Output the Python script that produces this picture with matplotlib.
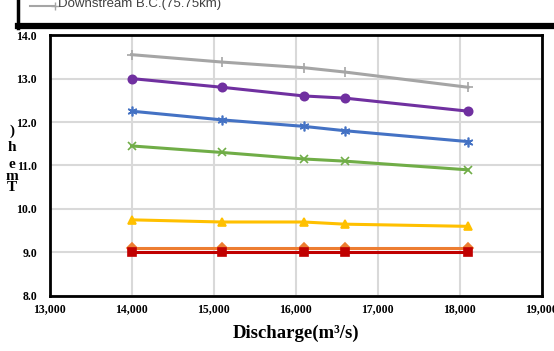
import matplotlib.pyplot as plt
import numpy as np

# discharge (m3/s) and temperature per boundary/station
discharge = [14000, 15100, 16100, 16600, 18100]

t_gray   = [13.55, 13.38, 13.25, 13.15, 12.80]
t_purple = [13.00, 12.80, 12.60, 12.55, 12.25]
t_blue   = [12.25, 12.05, 11.90, 11.80, 11.55]
t_green  = [11.45, 11.30, 11.15, 11.10, 10.90]
t_yellow = [9.75, 9.70, 9.70, 9.65, 9.60]
t_orange = [9.10, 9.10, 9.10, 9.10, 9.10]
t_red    = [9.00, 9.00, 9.00, 9.00, 9.00]

legend_label = "Downstream B.C.(75.75km)"

serif = "Liberation Serif"

#===============================================================
#                          Plot
#===============================================================

fig = plt.figure( figsize=(5.54, 3.51), dpi=100 )
ax  = fig.add_axes( [0.0894, 0.157, 0.8886, 0.743] )

series = [
    ( t_gray,   "#A5A5A5", "+", 7 ),
    ( t_purple, "#7030A0", "o", 6 ),
    ( t_blue,   "#4472C4", (6, 2, 0), 7 ),
    ( t_green,  "#70AD47", "x", 6 ),
    ( t_yellow, "#FFC000", "^", 6 ),
    ( t_orange, "#ED7D31", "D", 5 ),
    ( t_red,    "#C00000", "s", 6 ),
]
for vals, col, mk, ms in series:
    ax.plot( discharge, vals, color=col, linewidth=2.2, marker=mk, markersize=ms,
             markeredgecolor=col, markerfacecolor=col, markeredgewidth=1.2, zorder=3 )

ax.set_xlim( 13000, 19000 )
ax.set_ylim( 8.0, 14.0 )
ax.set_xticks( np.arange(13000, 19001, 1000) )
ax.set_yticks( np.arange(8.0, 14.01, 1.0) )
ax.set_xticklabels( [f"{int(v):,}" for v in ax.get_xticks()] )
ax.set_yticklabels( [f"{v:.1f}" for v in ax.get_yticks()] )
ax.tick_params( axis="x", length=0, pad=5 )
ax.tick_params( axis="y", length=0, pad=9 )
for lab in ax.get_xticklabels() + ax.get_yticklabels():
    lab.set_fontfamily( serif )
    lab.set_fontweight( "bold" )
    lab.set_fontsize( 8.5 )
ax.grid( color="#D9D9D9", linewidth=1.5 )
ax.set_axisbelow( True )
for sp in ax.spines.values():
    sp.set_linewidth( 2 )
    sp.set_color( "black" )

ax.set_xlabel( "Discharge(m³/s)", fontfamily=serif, fontweight="bold", fontsize=13.5, labelpad=7 )

# cropped, stacked y label
for ch, yy in zip( [")", "h", "e", "m", "T"], [0.627, 0.58, 0.53, 0.498, 0.465] ):
    fig.text( 0.022, yy, ch, fontfamily=serif, fontweight="bold", fontsize=11,
              ha="center", va="center" )

# remnant of legend box at the top
fig.add_artist( plt.Line2D( [0.033, 1.0], [0.927, 0.927], color="black", linewidth=4.5,
                            transform=fig.transFigure ) )
fig.add_artist( plt.Line2D( [0.033, 0.033], [0.92, 1.0], color="black", linewidth=2.5,
                            transform=fig.transFigure ) )
fig.add_artist( plt.Line2D( [0.055, 0.10], [0.983, 0.983], color="#A5A5A5", linewidth=1.5,
                            marker="+", markevery=[1], transform=fig.transFigure ) )
fig.text( 0.104, 0.988, legend_label, fontfamily="Liberation Sans", fontsize=9.5,
          ha="left", va="center", color="#404040" )

plt.savefig( "out.png", dpi=100 )
plt.close( fig )
